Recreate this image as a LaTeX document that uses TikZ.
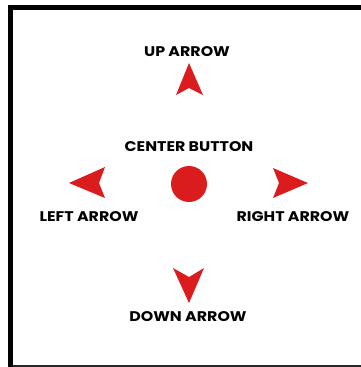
\documentclass[tikz,border=0pt]{standalone}
\usepackage{fontspec}
\setmainfont{Poppins}[FakeStretch=1.13]
\usepackage{tikz}

\definecolor{padred}{RGB}{218,28,30}

\begin{document}
\begin{tikzpicture}[x=1pt,y=-1pt,
    padkey/.style={fill=padred},
    keylabel/.style={font=\fontsize{14}{14}\selectfont\bfseries, inner sep=0pt}]
    \useasboundingbox (0,0) rectangle (361,367);

    % Frame
    \draw[line width=5pt] (10.5,367) -- (10.5,7.5) -- (361,7.5);
    \draw[line width=1.5pt, black!85] (13,366) -- (361,366);

    % Keys
    \fill[padkey] (189,63) -- (203,95) -- (189,88) -- (176,95) -- cycle;
    \fill[padkey] (189,303) -- (173,268) -- (189,277) -- (204,268) -- cycle;
    \fill[padkey] (69,183) -- (105,167) -- (99,183) -- (105,198) -- cycle;
    \fill[padkey] (308,183) -- (273,168) -- (279,183) -- (273,198) -- cycle;
    \fill[padkey] (189,184) circle (18);

    % Labels
    \node[keylabel] (up) at (187,52) {UP ARROW};
    \node[keylabel] (center) at (189,146.5) {CENTER BUTTON};
    \node[keylabel] (left) at (89,216.5) {LEFT ARROW};
    \node[keylabel] (right) at (293,216.5) {RIGHT ARROW};
    \node[keylabel] (down) at (188,316.5) {DOWN ARROW};
\end{tikzpicture}
\end{document}
